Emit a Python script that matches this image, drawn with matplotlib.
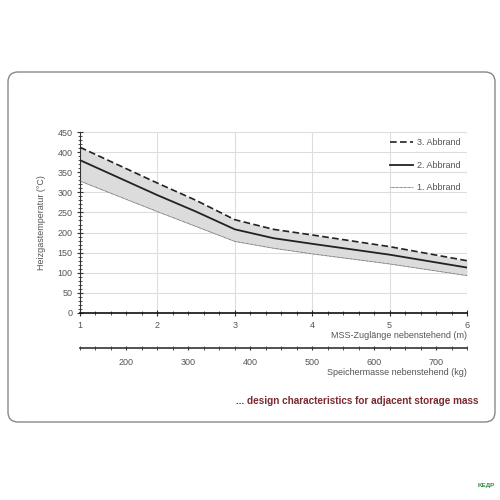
import numpy as np
import matplotlib.pyplot as plt
from matplotlib.patches import FancyBboxPatch
from matplotlib.ticker import MultipleLocator, FixedLocator

plt.rcParams['font.family'] = ['Liberation Sans', 'DejaVu Sans']

# MSS-Zuglänge (m) and Heizgastemperatur (°C)
laenge = [1.0, 2.0, 2.5, 3.0, 3.5, 4.0, 5.0, 6.0]
abbrand3 = [412, 323, 280, 232, 208, 194, 165, 130]
abbrand2 = [380, 293, 252, 208, 186, 172, 145, 113]
abbrand1 = [328, 252, 215, 178, 161, 147, 122, 93]

kg_per_m = 125.0  # Speichermasse = 125 kg per metre
kg_ticks = [200, 300, 400, 500, 600, 700]

grey = '#555555'

fig = plt.figure(figsize=(5, 5), dpi=100)

# rounded frame around the chart
box = FancyBboxPatch((8 / 500, 1 - 422 / 500), 487 / 500, 350 / 500,
                     boxstyle='round,pad=0,rounding_size=0.02',
                     transform=fig.transFigure, facecolor='none',
                     edgecolor='#888888', linewidth=1.0, zorder=-1)
fig.patches.append(box)

ax = fig.add_axes([0.16, 0.374, 0.774, 0.362])
ax.patch.set_alpha(0)
ax.fill_between(laenge, abbrand1, abbrand3, color='#dcdcdc', linewidth=0, zorder=1)
ax.plot(laenge, abbrand3, color='#222222', linestyle=(0, (4, 2)), linewidth=1.2,
        label='3. Abbrand', zorder=3)
ax.plot(laenge, abbrand2, color='#222222', linestyle='-', linewidth=1.3,
        label='2. Abbrand', zorder=3)
ax.plot(laenge, abbrand1, color='#555555', linestyle=(0, (1, 0.6)), linewidth=0.6,
        label='1. Abbrand', zorder=3)

ax.set_xlim(1, 6)
ax.set_ylim(0, 450)
ax.xaxis.set_major_locator(MultipleLocator(1))
ax.xaxis.set_minor_locator(MultipleLocator(0.2))
ax.yaxis.set_major_locator(MultipleLocator(50))
ax.yaxis.set_minor_locator(MultipleLocator(10))
ax.grid(True, which='major', color='#dddddd', linewidth=0.8, zorder=0)
ax.set_axisbelow(True)
for s in ['top', 'right']:
    ax.spines[s].set_visible(False)
ax.spines['left'].set_color('#333333')
ax.spines['bottom'].set_color('#111111')
ax.spines['bottom'].set_linewidth(1.2)
ax.tick_params(axis='both', which='both', direction='inout', colors='#333333',
               labelcolor=grey, labelsize=6.5)
ax.tick_params(axis='both', which='major', length=4)
ax.tick_params(axis='both', which='minor', length=2.5)
ax.set_ylabel('Heizgastemperatur (°C)', fontsize=6.5, color=grey, labelpad=8)
ax.set_xlabel('MSS-Zuglänge nebenstehend (m)', fontsize=6.5, color=grey,
              loc='right', labelpad=1)

leg = ax.legend(loc='upper right', frameon=False, fontsize=6.5, handlelength=2.6,
                labelspacing=1.5, borderaxespad=0.3, handletextpad=0.4)
for t in leg.get_texts():
    t.set_color(grey)

# second scale: storage mass
sec = ax.secondary_xaxis(-35 / 181, functions=(lambda m: m * kg_per_m,
                                                lambda kg: kg / kg_per_m))
sec.xaxis.set_major_locator(FixedLocator(kg_ticks))
sec.xaxis.set_minor_locator(MultipleLocator(25))
sec.spines['bottom'].set_color('#333333')
sec.spines['bottom'].set_linewidth(1.2)
sec.tick_params(which='both', direction='inout', colors='#333333',
                labelcolor=grey, labelsize=6.5)
sec.tick_params(which='major', length=2.5, pad=6)
sec.tick_params(which='minor', length=2.5)
sec.set_xlabel('Speichermasse nebenstehend (kg)', fontsize=6.5, color=grey,
               loc='right', labelpad=1)

fig.text(478 / 500, 1 - 401 / 500, '... design characteristics for adjacent storage mass',
         ha='right', va='center', fontsize=7.2, color='#7a2a30', fontweight='bold')
fig.text(486 / 500, 1 - 486 / 500, 'KEДP', ha='center', va='center', fontsize=4.5,
         color='#2e8b3a', fontweight='bold')

fig.savefig('out.png', dpi=100)
